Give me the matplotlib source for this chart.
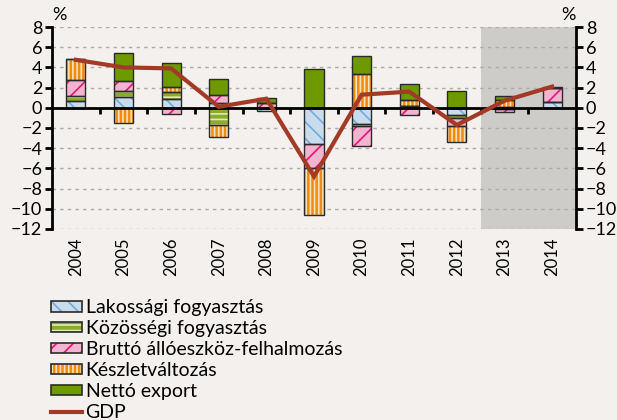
#!/usr/bin/env python
"""
GDP growth decomposition, stacked bars + GDP line
"""

import numpy as np
import matplotlib
matplotlib.use('Agg')
import matplotlib.pyplot as plt
import matplotlib.patches as mpa
import matplotlib.lines as mlines

years = ['2004', '2005', '2006', '2007', '2008', '2009', '2010', '2011',
         '2012', '2013', '2014']

lakossagi = [0.7, 1.05, 0.9, 0.45, -0.35, -3.6, -1.65, 0.15, -0.7, 0.1, 0.55]
kozossegi = [0.5, 0.65, 0.7, -1.7, 0.0, 0.0, -0.2, 0.05, -0.35, -0.1, 0.0]
brutto = [1.6, 0.95, -0.6, 0.8, 0.5, -2.4, -1.95, -0.7, -0.75, -0.3, 1.4]
keszlet = [2.0, -1.5, 0.45, -1.15, 0.0, -4.6, 3.3, 0.6, -1.6, 0.65, 0.0]
netto = [0.0, 2.75, 2.35, 1.65, 0.45, 3.8, 1.8, 1.55, 1.7, 0.4, 0.15]
gdp = [4.75, 4.0, 3.9, 0.1, 0.9, -6.8, 1.3, 1.6, -1.7, 0.7, 2.1]

labels = ['Lakossági fogyasztás', 'Közösségi fogyasztás',
          'Bruttó állóeszköz-felhalmozás', 'Készletváltozás', 'Nettó export']
series = [lakossagi, kozossegi, brutto, keszlet, netto]

# (face, hatch, hatch colour)
styles = [('#c9dcee', '\\\\', '#75a9d8'),
          ('#8cab2a', '---', '#dfeab8'),
          ('#f4b3cf', '//', '#e0157a'),
          ('#f08a10', '||||', '#fde2b8'),
          ('#6e9a00', '', '#6e9a00')]

bg = '#f3f0ed'
edge = '#2a2a2a'
params = {
        'font.family': ['Lato', 'DejaVu Sans'],
        'font.size': 12,
        'hatch.linewidth': 1.2,
        }
matplotlib.rcParams.update(params)

fig = plt.figure(figsize=(6.17, 4.2), dpi=100, facecolor=bg)
ax = fig.add_axes([0.0843, 0.4548, 0.8492, 0.4809])
ax.set_facecolor(bg)

x = np.arange(len(years))
w = 0.4

# forecast shading
ax.axvspan(8.5, 10.5, color='#cdccc9', zorder=0, lw=0)

for yv in np.arange(-12, 9, 2):
    if yv != 0:
        ax.axhline(yv, color='#ababab', lw=1, ls=(0, (2.5, 3)), zorder=1)

pos_base = np.zeros(len(years))
neg_base = np.zeros(len(years))
for vals, (fc, h, hc) in zip(series, styles):
    vals = np.array(vals)
    base = np.where(vals >= 0, pos_base, neg_base)
    ax.bar(x, vals, w, bottom=base, facecolor=fc, hatch=h, edgecolor=hc,
           lw=0, zorder=2)
    ax.bar(x, vals, w, bottom=base, facecolor='none', edgecolor=edge,
           lw=1.0, zorder=3)
    pos_base = pos_base + np.where(vals >= 0, vals, 0)
    neg_base = neg_base + np.where(vals < 0, vals, 0)

ax.plot(x, gdp, color='#a33a25', lw=3, zorder=5, solid_joinstyle='miter')

ax.set_xlim(-0.5, len(years) - 0.5)
ax.set_ylim(-12, 8)
ax.set_yticks(np.arange(-12, 9, 2))

# zero line with small ticks between categories
ax.spines['bottom'].set_position(('data', 0))
ax.spines['bottom'].set_linewidth(2)
ax.spines['top'].set_visible(False)
ax.spines['right'].set_visible(False)
ax.spines['left'].set_linewidth(2)
ax.spines['left'].set_zorder(4)
ax.spines['bottom'].set_zorder(4)
ax.set_xticks(x)
ax.set_xticks(np.arange(0.5, len(years) - 1, 1.0), minor=True)
ax.tick_params(axis='x', which='major', length=0, labelbottom=False)
ax.tick_params(axis='x', which='minor', direction='out', length=4, width=2)
ax.tick_params(axis='y', direction='out', length=5, width=2, pad=2,
               labelsize=13)

sec = ax.secondary_xaxis(0.0)
sec.set_xticks(x)
sec.set_xticklabels(years, rotation=90, fontsize=12)
sec.tick_params(length=0, pad=6)
sec.spines['bottom'].set_visible(False)

ax2 = ax.twinx()
ax2.set_ylim(-12, 8)
ax2.set_yticks(np.arange(-12, 9, 2))
for s in ['top', 'left', 'bottom']:
    ax2.spines[s].set_visible(False)
ax2.spines['right'].set_linewidth(2)
ax2.tick_params(axis='y', direction='out', length=5, width=2, pad=2,
                labelsize=13)

fig.text(0.097, 0.965, '%', ha='center', va='center', fontsize=13)
fig.text(0.922, 0.965, '%', ha='center', va='center', fontsize=13)

# legend: hatched fill under a dark outline
handles = []
for lab, (fc, h, hc) in zip(labels, styles):
    fill = mpa.Patch(facecolor=fc, hatch=h, edgecolor=hc, lw=0)
    outline = mpa.Patch(facecolor='none', edgecolor=edge, lw=1.2)
    handles.append((fill, outline))
handles.append(mlines.Line2D([], [], color='#a33a25', lw=3))
fig.legend(handles=handles, labels=labels + ['GDP'], loc='upper left',
           bbox_to_anchor=(0.082, 0.287), frameon=False, fontsize=14,
           handlelength=1.6, handleheight=0.42, handletextpad=0.2,
           labelspacing=0.2, borderaxespad=0, borderpad=0)

fig.savefig('out.png', dpi=100, facecolor=bg)
